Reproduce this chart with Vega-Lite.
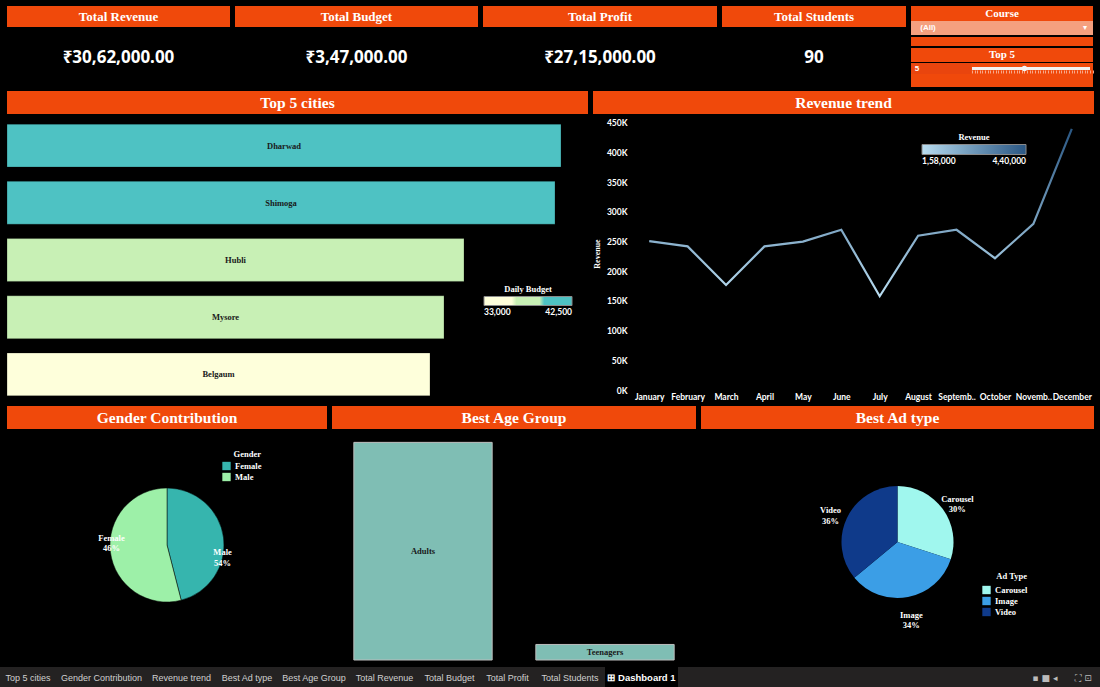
{
  "$schema": "https://vega.github.io/schema/vega-lite/v6.json",
  "background": "#000000",
  "padding": {"left": 0, "top": 5, "right": 0, "bottom": 0},
  "spacing": 6,
  "resolve": {"scale": {"color": "independent"}, "legend": {"color": "independent"}},
  "config": {
    "view": {"stroke": null},
    "legend": {
      "titleColor": "#FFFFFF", "labelColor": "#FFFFFF",
      "titleFont": "Liberation Serif", "titleFontWeight": "bold", "titleFontSize": 8.5,
      "labelFont": "Liberation Serif", "labelFontWeight": "bold", "labelFontSize": 8.5
    },
    "text": {"font": "Liberation Serif"}
  },
  "vconcat": [
    {
      "spacing": 5,
      "resolve": {"scale": {"color": "independent"}, "legend": {"color": "independent"}},
      "hconcat": [
        {"width": 1, "height": 10, "data": {"values": [{}]}, "mark": {"type": "text", "text": ""}, "encoding": {}},
        {
          "spacing": 3,
          "resolve": {"scale": {"color": "independent"}, "legend": {"color": "independent"}},
          "vconcat": [
            {
              "spacing": 5,
              "hconcat": [
                {"spacing": 0, "vconcat": [
                  {"width": 223, "height": 21, "view": {"fill": "#F0490B"}, "data": {"values": [{"label": "Total Revenue"}]}, "mark": {"type": "text", "fontWeight": "bold", "fontSize": 13, "color": "#FFFFFF"}, "encoding": {"text": {"field": "label"}}},
                  {"width": 223, "height": 61, "data": {"values": [{"value": "₹30,62,000.00"}]}, "mark": {"type": "text", "font": "Noto Sans", "fontWeight": "bold", "fontSize": 17, "color": "#FFFFFF"}, "encoding": {"text": {"field": "value"}}}
                ]},
                {"spacing": 0, "vconcat": [
                  {"width": 243, "height": 21, "view": {"fill": "#F0490B"}, "data": {"values": [{"label": "Total Budget"}]}, "mark": {"type": "text", "fontWeight": "bold", "fontSize": 13, "color": "#FFFFFF"}, "encoding": {"text": {"field": "label"}}},
                  {"width": 243, "height": 61, "data": {"values": [{"value": "₹3,47,000.00"}]}, "mark": {"type": "text", "font": "Noto Sans", "fontWeight": "bold", "fontSize": 17, "color": "#FFFFFF"}, "encoding": {"text": {"field": "value"}}}
                ]},
                {"spacing": 0, "vconcat": [
                  {"width": 234, "height": 21, "view": {"fill": "#F0490B"}, "data": {"values": [{"label": "Total Profit"}]}, "mark": {"type": "text", "fontWeight": "bold", "fontSize": 13, "color": "#FFFFFF"}, "encoding": {"text": {"field": "label"}}},
                  {"width": 234, "height": 61, "data": {"values": [{"value": "₹27,15,000.00"}]}, "mark": {"type": "text", "font": "Noto Sans", "fontWeight": "bold", "fontSize": 17, "color": "#FFFFFF"}, "encoding": {"text": {"field": "value"}}}
                ]},
                {"spacing": 0, "vconcat": [
                  {"width": 184, "height": 21, "view": {"fill": "#F0490B"}, "data": {"values": [{"label": "Total Students"}]}, "mark": {"type": "text", "fontWeight": "bold", "fontSize": 13, "color": "#FFFFFF"}, "encoding": {"text": {"field": "label"}}},
                  {"width": 184, "height": 61, "data": {"values": [{"value": "90"}]}, "mark": {"type": "text", "font": "Noto Sans", "fontWeight": "bold", "fontSize": 17, "color": "#FFFFFF"}, "encoding": {"text": {"field": "value"}}}
                ]},
                {"spacing": 1, "vconcat": [
                  {"spacing": 0, "vconcat": [
                    {"width": 182, "height": 15, "view": {"fill": "#F0490B"}, "data": {"values": [{"label": "Course"}]}, "mark": {"type": "text", "fontWeight": "bold", "fontSize": 11, "color": "#FFFFFF"}, "encoding": {"text": {"field": "label"}}},
                    {"spacing": 0, "bounds": "flush", "hconcat": [
                      {"width": 34, "height": 14, "view": {"fill": "#F5A07F"}, "data": {"values": [{"label": "(All)"}]}, "mark": {"type": "text", "font": "Liberation Sans", "fontWeight": "bold", "fontSize": 8, "color": "#FFFFFF"}, "encoding": {"text": {"field": "label"}}},
                      {"width": 132, "height": 14, "view": {"fill": "#F5A07F"}, "data": {"values": [{}]}, "mark": {"type": "text", "text": ""}, "encoding": {}},
                      {"width": 16, "height": 14, "view": {"fill": "#F5A07F"}, "data": {"values": [{"label": "▾"}]}, "mark": {"type": "text", "font": "DejaVu Sans", "fontSize": 8, "color": "#FFFFFF"}, "encoding": {"text": {"field": "label"}}}
                    ]},
                    {"width": 182, "height": 9, "view": {"fill": "#F0490B"}, "data": {"values": [{}]}, "mark": {"type": "text", "text": ""}, "encoding": {}}
                  ]},
                  {"spacing": 0, "vconcat": [
                    {"width": 182, "height": 14, "view": {"fill": "#F0490B"}, "data": {"values": [{"label": "Top 5"}]}, "mark": {"type": "text", "fontWeight": "bold", "fontSize": 11, "color": "#FFFFFF"}, "encoding": {"text": {"field": "label"}}},
                    {"spacing": 0, "bounds": "flush", "hconcat": [
                      {"width": 12, "height": 11, "view": {"fill": "#E9450E"}, "data": {"values": [{"label": "5"}]}, "mark": {"type": "text", "font": "Liberation Sans", "fontWeight": "bold", "fontSize": 8, "color": "#FFFFFF"}, "encoding": {"text": {"field": "label"}}},
                      {"width": 48, "height": 11, "view": {"fill": "#E9450E"}, "data": {"values": [{}]}, "mark": {"type": "text", "text": ""}, "encoding": {}},
                      {
                        "width": 122, "height": 11, "view": {"fill": "#F0490B"},
                        "data": {"values": [{"Top N": 5}]},
                        "layer": [
                          {"mark": {"type": "rule", "color": "#F2F2F2", "strokeWidth": 3},
                           "encoding": {
                             "x": {"datum": 1, "type": "quantitative", "scale": {"domain": [0.924, 10.229], "nice": false, "zero": false},
                                   "axis": {"orient": "bottom", "offset": -4, "domain": false, "labels": false, "grid": false, "title": null, "ticks": true, "tickSize": 3, "tickColor": "#F7A88A", "tickCount": 36}},
                             "x2": {"datum": 10},
                             "y": {"datum": 0, "type": "quantitative", "scale": {"domain": [-1, 1]}, "axis": null}
                           }},
                          {"mark": {"type": "point", "filled": true, "color": "#F4F4F4", "size": 30, "opacity": 1},
                           "encoding": {
                             "x": {"field": "Top N", "type": "quantitative"},
                             "y": {"datum": 0, "type": "quantitative"}
                           }}
                        ]
                      }
                    ]},
                    {"width": 182, "height": 13, "view": {"fill": "#F0490B"}, "data": {"values": [{}]}, "mark": {"type": "text", "text": ""}, "encoding": {}}
                  ]}
                ]}
              ]
            },
            {
              "spacing": 5,
              "hconcat": [
                {"width": 581, "height": 23, "view": {"fill": "#F0490B"}, "data": {"values": [{"label": "Top 5 cities"}]}, "mark": {"type": "text", "fontWeight": "bold", "fontSize": 15.5, "color": "#FFFFFF"}, "encoding": {"text": {"field": "label"}}},
                {"width": 501, "height": 23, "view": {"fill": "#F0490B"}, "data": {"values": [{"label": "Revenue trend"}]}, "mark": {"type": "text", "fontWeight": "bold", "fontSize": 15.5, "color": "#FFFFFF"}, "encoding": {"text": {"field": "label"}}}
              ]
            },
            {
              "spacing": 5,
              "resolve": {"scale": {"color": "independent"}, "legend": {"color": "independent"}},
              "hconcat": [
                {
                  "width": 581, "height": 286,
                  "data": {"values": [
                    {"City": "Dharwad", "Revenue": 554000, "Daily Budget": 42500},
                    {"City": "Shimoga", "Revenue": 548000, "Daily Budget": 41500},
                    {"City": "Hubli", "Revenue": 457000, "Daily Budget": 38000},
                    {"City": "Mysore", "Revenue": 437000, "Daily Budget": 37500},
                    {"City": "Belgaum", "Revenue": 423000, "Daily Budget": 33000}
                  ]},
                  "layer": [
                    {
                      "mark": {"type": "bar", "stroke": "#000000", "strokeOpacity": 0.25, "strokeWidth": 1},
                      "encoding": {
                        "y": {"field": "City", "type": "nominal", "sort": null, "axis": null, "scale": {"paddingInner": 0.25, "paddingOuter": 0.125}},
                        "x": {"field": "Revenue", "type": "quantitative", "axis": null, "scale": {"domain": [0, 581000], "nice": false}},
                        "color": {
                          "field": "Daily Budget", "type": "quantitative",
                          "scale": {"domain": [33000, 36166, 36167, 39333, 39334, 42500], "range": ["#FEFFDB", "#FEFFDB", "#C8F0B5", "#C8F0B5", "#4EC2C3", "#4EC2C3"]},
                          "legend": {
                            "title": "Daily Budget", "orient": "none", "legendX": 477, "legendY": 168,
                            "direction": "horizontal", "gradientLength": 88, "gradientThickness": 9,
                            "gradientStrokeColor": "#8A8A8A", "gradientStrokeWidth": 1,
                            "values": [33000, 42500],
                            "labelFont": "Lato", "titleAnchor": "middle", "titlePadding": 3,
                            "labelExpr": "datum.value < 38000 ? '33,000' : '42,500'"
                          }
                        }
                      }
                    },
                    {
                      "mark": {"type": "text", "fontWeight": "bold", "fontSize": 8.5, "color": "#1A1A1A"},
                      "encoding": {
                        "y": {"field": "City", "type": "nominal", "sort": null, "axis": null},
                        "x": {"field": "Revenue", "type": "quantitative", "axis": null, "scale": {"domain": [0, 1162000], "nice": false}},
                        "text": {"field": "City"}
                      }
                    }
                  ],
                  "resolve": {"scale": {"x": "independent"}}
                },
                {
                  "width": 461, "height": 273,
                  "data": {"values": [
                    {"Month": "January", "Revenue": 251000},
                    {"Month": "February", "Revenue": 242000},
                    {"Month": "March", "Revenue": 177000},
                    {"Month": "April", "Revenue": 242000},
                    {"Month": "May", "Revenue": 250000},
                    {"Month": "June", "Revenue": 270000},
                    {"Month": "July", "Revenue": 158000},
                    {"Month": "August", "Revenue": 260000},
                    {"Month": "September", "Revenue": 270000},
                    {"Month": "October", "Revenue": 222000},
                    {"Month": "November", "Revenue": 280000},
                    {"Month": "December", "Revenue": 440000}
                  ]},
                  "encoding": {
                    "x": {
                      "field": "Month", "type": "ordinal", "sort": null,
                      "scale": {"type": "point", "padding": 0.5},
                      "axis": {
                        "title": null, "labelAngle": 0, "ticks": false, "domain": false, "labelPadding": 2,
                        "labelFont": "Lato", "labelFontWeight": "bold", "labelFontSize": 8.5, "labelColor": "#FFFFFF",
                        "labelOverlap": false,
                        "labelExpr": "datum.value == 'September' ? 'Septemb..' : datum.value == 'November' ? 'Novemb..' : datum.value"
                      }
                    },
                    "y": {
                      "field": "Revenue", "type": "quantitative",
                      "scale": {"domain": [0, 460000], "nice": false},
                      "axis": {
                        "title": "Revenue", "values": [0, 50000, 100000, 150000, 200000, 250000, 300000, 350000, 400000, 450000],
                        "labelExpr": "(datum.value / 1000) + 'K'",
                        "grid": false, "domain": false, "ticks": false, "labelPadding": 3,
                        "minExtent": 26, "maxExtent": 26, "titlePadding": 3,
                        "titleFont": "Liberation Serif", "titleFontWeight": "bold", "titleFontSize": 8, "titleColor": "#FFFFFF",
                        "labelFont": "Lato", "labelFontWeight": "bold", "labelFontSize": 8.5, "labelColor": "#FFFFFF"
                      }
                    }
                  },
                  "layer": [
                    {
                      "mark": {
                        "type": "line", "strokeWidth": 2.2,
                        "stroke": {"gradient": "linear", "x1": 0, "y1": 1, "x2": 0, "y2": 0,
                                   "stops": [{"offset": 0, "color": "#B9DDF1"}, {"offset": 1, "color": "#2A5783"}]}
                      }
                    },
                    {
                      "mark": {"type": "point", "opacity": 0},
                      "encoding": {
                        "color": {
                          "field": "Revenue", "type": "quantitative",
                          "scale": {"domain": [158000, 440000], "range": ["#B9DDF1", "#2A5783"]},
                          "legend": {
                            "title": "Revenue", "orient": "none", "legendX": 292, "legendY": 16,
                            "direction": "horizontal", "gradientLength": 104, "gradientThickness": 10,
                            "gradientStrokeColor": "#8A8A8A", "gradientStrokeWidth": 1,
                            "values": [158000, 440000], "labelFont": "Lato", "titleAnchor": "middle", "titlePadding": 3,
                            "labelExpr": "datum.value < 300000 ? '1,58,000' : '4,40,000'"
                          }
                        }
                      }
                    }
                  ]
                }
              ]
            },
            {
              "spacing": 5,
              "resolve": {"scale": {"color": "independent"}, "legend": {"color": "independent"}},
              "hconcat": [
                {"spacing": 1, "resolve": {"scale": {"color": "independent"}, "legend": {"color": "independent"}}, "vconcat": [
                  {"width": 320, "height": 23, "view": {"fill": "#F0490B"}, "data": {"values": [{"label": "Gender Contribution"}]}, "mark": {"type": "text", "fontWeight": "bold", "fontSize": 15.5, "color": "#FFFFFF"}, "encoding": {"text": {"field": "label"}}},
                  {
                    "width": 320, "height": 230,
                    "data": {"values": [
                      {"Gender": "Female", "Share": 46},
                      {"Gender": "Male", "Share": 54}
                    ]},
                    "transform": [{"calculate": "datum.Gender + '\\n' + datum.Share + '%'", "as": "Label"}],
                    "layer": [
                      {
                        "mark": {"type": "arc", "outerRadius": 57, "stroke": "#000000", "strokeWidth": 0.5},
                        "encoding": {
                          "theta": {"field": "Share", "type": "quantitative", "stack": true},
                          "order": {"field": "Gender", "sort": "ascending"},
                          "color": {
                            "field": "Gender", "type": "nominal",
                            "scale": {"domain": ["Female", "Male"], "range": ["#36B5AE", "#9DF0A8"]},
                            "legend": {"title": "Gender", "orient": "none", "legendX": 215, "legendY": 20, "symbolType": "square", "symbolSize": 70, "symbolStrokeWidth": 0, "symbolOpacity": 1, "rowPadding": 2, "titleAnchor": "end", "titlePadding": 3}
                          }
                        }
                      },
                      {
                        "mark": {"type": "text", "radius": 56, "lineBreak": "\n", "fontWeight": "bold", "fontSize": 8.5, "color": "#FFFFFF"},
                        "encoding": {
                          "theta": {"field": "Share", "type": "quantitative", "stack": true},
                          "order": {"field": "Gender", "sort": "descending"},
                          "detail": {"field": "Gender"},
                          "text": {"field": "Label"}
                        }
                      }
                    ]
                  }
                ]},
                {"spacing": 3, "vconcat": [
                  {"width": 364, "height": 23, "view": {"fill": "#F0490B"}, "data": {"values": [{"label": "Best Age Group"}]}, "mark": {"type": "text", "fontWeight": "bold", "fontSize": 15.5, "color": "#FFFFFF"}, "encoding": {"text": {"field": "label"}}},
                  {
                    "width": 364, "height": 228,
                    "data": {"values": [
                      {"Age Group": "Adults", "Students": 84},
                      {"Age Group": "Teenagers", "Students": 6}
                    ]},
                    "layer": [
                      {
                        "mark": {"type": "bar", "color": "#7FBEB4", "stroke": "#BDBDBD", "strokeWidth": 1},
                        "encoding": {
                          "x": {"field": "Age Group", "type": "nominal", "sort": null, "axis": null, "scale": {"paddingInner": 0.24, "paddingOuter": 0.12}},
                          "y": {"field": "Students", "type": "quantitative", "axis": null, "scale": {"domain": [0, 88], "nice": false}}
                        }
                      },
                      {
                        "mark": {"type": "text", "fontWeight": "bold", "fontSize": 8.5, "color": "#1A1A1A"},
                        "encoding": {
                          "x": {"field": "Age Group", "type": "nominal", "sort": null, "axis": null},
                          "y": {"field": "Students", "type": "quantitative", "axis": null, "scale": {"domain": [0, 176], "nice": false}},
                          "text": {"field": "Age Group"}
                        }
                      }
                    ],
                    "resolve": {"scale": {"y": "independent"}}
                  }
                ]},
                {"spacing": 1, "resolve": {"scale": {"color": "independent"}, "legend": {"color": "independent"}}, "vconcat": [
                  {"width": 393, "height": 23, "view": {"fill": "#F0490B"}, "data": {"values": [{"label": "Best Ad type"}]}, "mark": {"type": "text", "fontWeight": "bold", "fontSize": 15.5, "color": "#FFFFFF"}, "encoding": {"text": {"field": "label"}}},
                  {
                    "width": 393, "height": 224,
                    "data": {"values": [
                      {"Ad Type": "Carousel", "Share": 30},
                      {"Ad Type": "Image", "Share": 34},
                      {"Ad Type": "Video", "Share": 36}
                    ]},
                    "transform": [{"calculate": "datum['Ad Type'] + '\\n' + datum.Share + '%'", "as": "Label"}],
                    "layer": [
                      {
                        "mark": {"type": "arc", "outerRadius": 56},
                        "encoding": {
                          "theta": {"field": "Share", "type": "quantitative", "stack": true},
                          "order": {"field": "Ad Type", "sort": "ascending"},
                          "color": {
                            "field": "Ad Type", "type": "nominal",
                            "scale": {"domain": ["Carousel", "Image", "Video"], "range": ["#A0F7EE", "#3B9EE6", "#0F3A8A"]},
                            "legend": {"title": "Ad Type", "orient": "none", "legendX": 281, "legendY": 142, "symbolType": "square", "symbolSize": 70, "symbolStrokeWidth": 0, "symbolOpacity": 1, "rowPadding": 2, "titleAnchor": "end"}
                          }
                        }
                      },
                      {
                        "mark": {"type": "text", "radius": 74, "lineBreak": "\n", "fontWeight": "bold", "fontSize": 8.5, "color": "#FFFFFF"},
                        "encoding": {
                          "theta": {"field": "Share", "type": "quantitative", "stack": true},
                          "order": {"field": "Ad Type", "sort": "ascending"},
                          "detail": {"field": "Ad Type"},
                          "text": {"field": "Label"}
                        }
                      }
                    ]
                  }
                ]}
              ]
            }
          ]
        }
      ]
    },
    {
      "spacing": 0, "bounds": "flush",
      "hconcat": [
        {"width": 56, "height": 21, "view": {"fill": "#242222"}, "data": {"values": [{"tab": "Top 5 cities"}]}, "mark": {"type": "text", "font": "Liberation Sans", "fontSize": 9, "color": "#D0D0D0"}, "encoding": {"text": {"field": "tab"}}},
        {"width": 91, "height": 21, "view": {"fill": "#242222"}, "data": {"values": [{"tab": "Gender Contribution"}]}, "mark": {"type": "text", "font": "Liberation Sans", "fontSize": 9, "color": "#D0D0D0"}, "encoding": {"text": {"field": "tab"}}},
        {"width": 69, "height": 21, "view": {"fill": "#242222"}, "data": {"values": [{"tab": "Revenue trend"}]}, "mark": {"type": "text", "font": "Liberation Sans", "fontSize": 9, "color": "#D0D0D0"}, "encoding": {"text": {"field": "tab"}}},
        {"width": 62, "height": 21, "view": {"fill": "#242222"}, "data": {"values": [{"tab": "Best Ad type"}]}, "mark": {"type": "text", "font": "Liberation Sans", "fontSize": 9, "color": "#D0D0D0"}, "encoding": {"text": {"field": "tab"}}},
        {"width": 72, "height": 21, "view": {"fill": "#242222"}, "data": {"values": [{"tab": "Best Age Group"}]}, "mark": {"type": "text", "font": "Liberation Sans", "fontSize": 9, "color": "#D0D0D0"}, "encoding": {"text": {"field": "tab"}}},
        {"width": 69, "height": 21, "view": {"fill": "#242222"}, "data": {"values": [{"tab": "Total Revenue"}]}, "mark": {"type": "text", "font": "Liberation Sans", "fontSize": 9, "color": "#D0D0D0"}, "encoding": {"text": {"field": "tab"}}},
        {"width": 61, "height": 21, "view": {"fill": "#242222"}, "data": {"values": [{"tab": "Total Budget"}]}, "mark": {"type": "text", "font": "Liberation Sans", "fontSize": 9, "color": "#D0D0D0"}, "encoding": {"text": {"field": "tab"}}},
        {"width": 55, "height": 21, "view": {"fill": "#242222"}, "data": {"values": [{"tab": "Total Profit"}]}, "mark": {"type": "text", "font": "Liberation Sans", "fontSize": 9, "color": "#D0D0D0"}, "encoding": {"text": {"field": "tab"}}},
        {"width": 70, "height": 21, "view": {"fill": "#242222"}, "data": {"values": [{"tab": "Total Students"}]}, "mark": {"type": "text", "font": "Liberation Sans", "fontSize": 9, "color": "#D0D0D0"}, "encoding": {"text": {"field": "tab"}}},
        {"width": 73, "height": 21, "view": {"fill": "#000000"}, "data": {"values": [{"tab": "⊞ Dashboard 1"}]}, "mark": {"type": "text", "font": "Liberation Sans", "fontWeight": "bold", "fontSize": 9.5, "color": "#FFFFFF"}, "encoding": {"text": {"field": "tab"}}},
        {"width": 345, "height": 21, "view": {"fill": "#242222"}, "data": {"values": [{}]}, "mark": {"type": "text", "text": ""}, "encoding": {}},
        {"width": 44, "height": 21, "view": {"fill": "#242222"}, "data": {"values": [{"tab": "▪ ■ ◂"}]}, "mark": {"type": "text", "font": "DejaVu Sans", "fontSize": 9, "color": "#BBBBBB"}, "encoding": {"text": {"field": "tab"}}},
        {"width": 33, "height": 21, "view": {"fill": "#242222"}, "data": {"values": [{"tab": "⛶ ⊡"}]}, "mark": {"type": "text", "font": "DejaVu Sans", "fontSize": 9, "color": "#BBBBBB"}, "encoding": {"text": {"field": "tab"}}}
      ]
    }
  ]
}
